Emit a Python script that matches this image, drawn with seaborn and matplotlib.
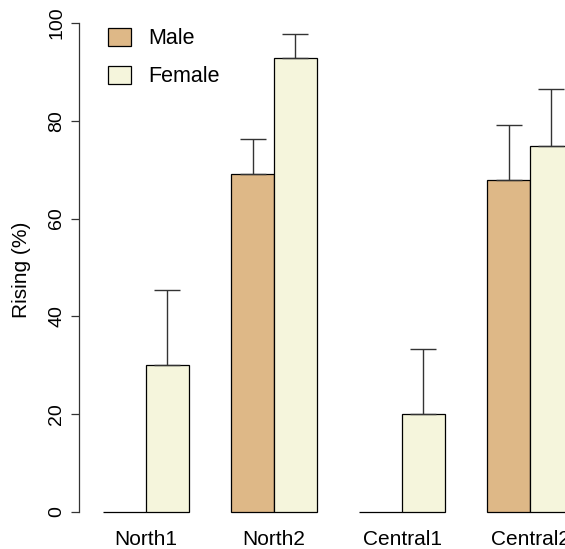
import matplotlib
matplotlib.use("Agg")
import matplotlib.pyplot as plt
import seaborn as sns
import pandas as pd
import numpy as np

sites = ["North1", "North2", "Central1", "Central2"]
sexes = ["Male", "Female"]
male_vals = [0.0, 69.2, 0.0, 67.9]
female_vals = [30.0, 92.9, 20.0, 74.9]
male_err = [0.0, 7.0, 0.0, 11.3]
female_err = [15.3, 4.9, 13.3, 11.6]
yticks = [0, 20, 40, 60, 80, 100]
colors = {"Male": "#DEB887", "Female": "#F5F5DC"}

df = pd.DataFrame({
    "Site": sites * 2,
    "Sex": ["Male"] * len(sites) + ["Female"] * len(sites),
    "Value": male_vals + female_vals,
    "Err": male_err + female_err,
})

sns.set_style("white")
plt.rcParams["font.family"] = ["Liberation Sans", "DejaVu Sans"]
plt.rcParams["text.color"] = "black"
plt.rcParams["axes.labelcolor"] = "black"
plt.rcParams["xtick.color"] = "black"
plt.rcParams["ytick.color"] = "black"

fig = plt.figure(figsize=(5.65, 5.49), dpi=100)
ax = fig.add_axes([79 / 565, 17.4 / 549, 486 / 565, 528.2 / 549])

sns.barplot(data=df, x="Site", y="Value", hue="Sex", order=sites,
            hue_order=sexes, palette=colors, saturation=1, edgecolor="black",
            linewidth=0.9, errorbar=None, width=2 / 3, gap=0, ax=ax)

# error bars (upper only) from bar patches
bars = [p for p in ax.patches if p.get_width() > 0][: 2 * len(sites)]
errs = male_err + female_err
vals = male_vals + female_vals
for p, v, e in zip(bars, vals, errs):
    if e > 0:
        xc = p.get_x() + p.get_width() / 2
        ax.errorbar([xc], [v], yerr=[[0], [e]], fmt="none", ecolor="#333333",
                    elinewidth=1.0, capsize=9.5, capthick=1.0, zorder=1)

ax.set_xlim(-0.523, 3.273)
ax.set_ylim(-4, 104)
ax.set_yticks(yticks)
ax.set_yticklabels([str(t) for t in yticks], rotation=90, va="center",
                   fontsize=14)
ax.tick_params(axis="y", left=True, length=5.8, width=0.9, pad=4,
               color="#333333")
ax.tick_params(axis="x", bottom=False, length=0, pad=-1.5, labelsize=15)
for s in ["top", "right", "bottom"]:
    ax.spines[s].set_visible(False)
ax.spines["left"].set_bounds(0, 100)
ax.spines["left"].set_color("#333333")
ax.spines["left"].set_linewidth(0.9)
ax.set_xlabel("")
ax.set_ylabel("Rising (%)", fontsize=15)
ax.yaxis.set_label_coords(-(79 - 31) / 486, 0.5 + (549 / 2 - 277) / 528.2)

leg = ax.legend(frameon=False, loc="upper left",
                bbox_to_anchor=(10 / 486, 1 - 5 / 528.2),
                fontsize=15.5, handlelength=1.05, handleheight=0.95,
                handletextpad=0.8, labelspacing=0.75, borderpad=0.4)
for h in leg.legend_handles:
    h.set_edgecolor("black")
    h.set_linewidth(0.9)

fig.savefig("out.png", dpi=100)
